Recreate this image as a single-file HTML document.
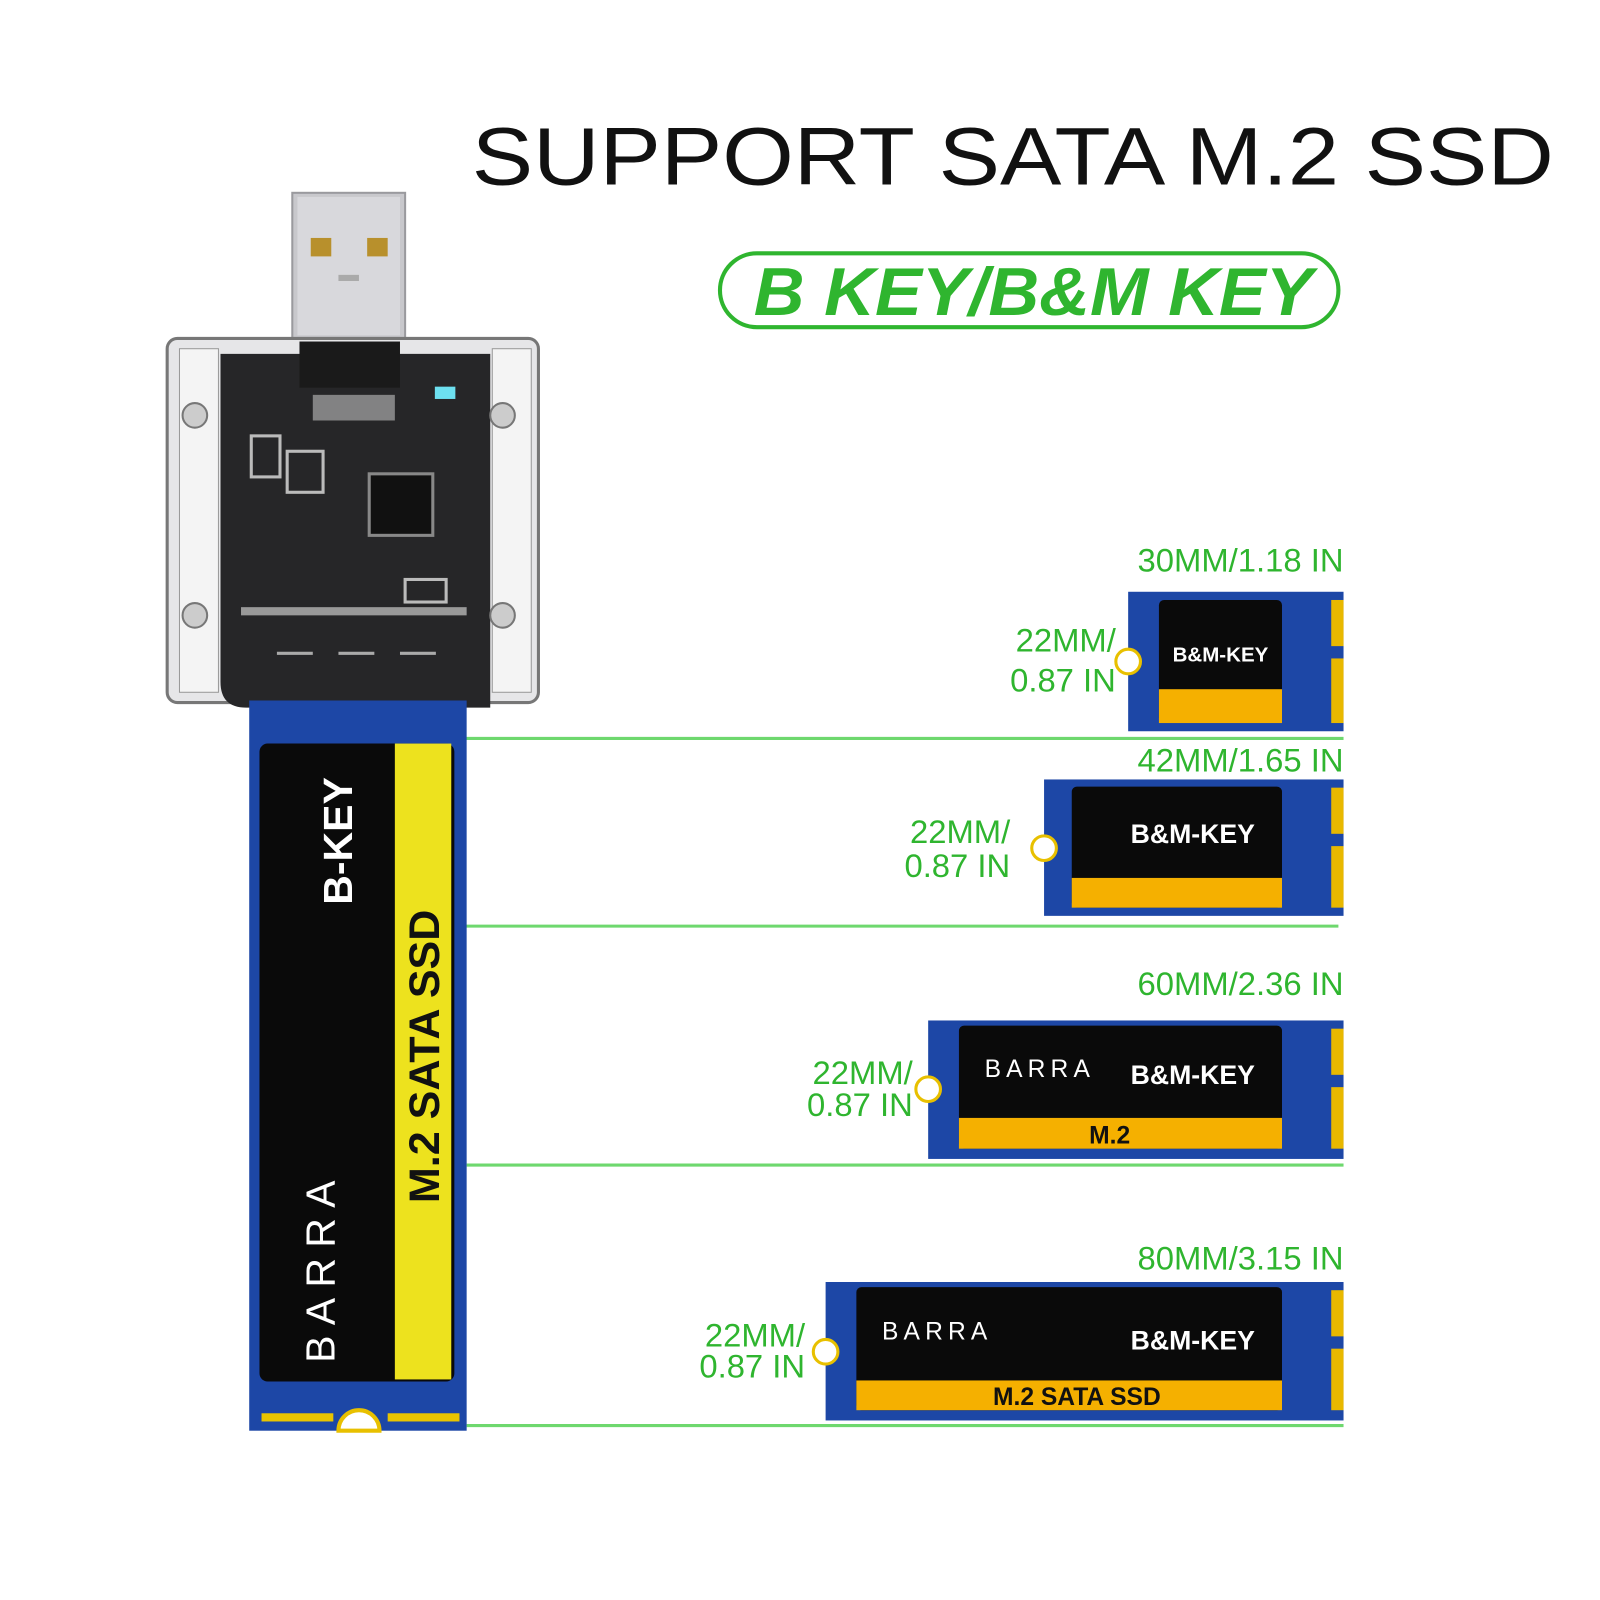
<!DOCTYPE html>
<html><head><meta charset="utf-8"><style>
html,body{margin:0;padding:0;background:#fff}
svg{display:block}
text{font-family:"Liberation Sans",sans-serif}
</style></head><body>
<svg width="1600" height="1600" viewBox="0 0 1600 1600" xmlns="http://www.w3.org/2000/svg">
<rect width="1600" height="1600" fill="#fff"/>
<g transform="scale(1.0256)">
<text x="460" y="180" font-size="80" textLength="1055" lengthAdjust="spacingAndGlyphs" fill="#111">SUPPORT SATA M.2 SSD</text>
<rect x="702" y="247" width="603" height="72" rx="36" fill="#fff" stroke="#2fb52f" stroke-width="4"/>
<text x="735" y="307" font-size="66" font-weight="bold" font-style="italic" fill="#2fb52f" textLength="545" lengthAdjust="spacingAndGlyphs">B KEY/B&amp;M KEY</text>

<rect x="285" y="188" width="110" height="145" fill="#c8c8cc" stroke="#9a9a9e" stroke-width="2"/>
<rect x="290" y="192" width="100" height="135" fill="#d8d8dc"/>
<rect x="303" y="232" width="20" height="18" fill="#b8902c"/>
<rect x="358" y="232" width="20" height="18" fill="#b8902c"/>
<rect x="330" y="268" width="20" height="6" fill="#aaa"/>
<rect x="163" y="330" width="362" height="355" rx="10" fill="#e6e6e8" stroke="#777" stroke-width="3"/>
<rect x="175" y="340" width="38" height="335" fill="#f4f4f4" stroke="#999"/>
<rect x="480" y="340" width="38" height="335" fill="#f4f4f4" stroke="#999"/>
<path d="M215 345 H478 V690 H240 Q215 690 215 665 Z" fill="#262628"/>
<rect x="292" y="333" width="98" height="45" fill="#1a1a1a"/>
<rect x="305" y="385" width="80" height="25" fill="#aaa" opacity="0.7"/>
<rect x="424" y="377" width="20" height="12" fill="#6de0f0"/>
<rect x="360" y="462" width="62" height="60" fill="#111" stroke="#888" stroke-width="3"/>
<rect x="280" y="440" width="35" height="40" fill="none" stroke="#bbb" stroke-width="3"/>
<rect x="245" y="425" width="28" height="40" fill="none" stroke="#bbb" stroke-width="3"/>
<rect x="395" y="565" width="40" height="22" fill="none" stroke="#bbb" stroke-width="3"/>
<rect x="235" y="592" width="220" height="8" fill="#999"/>
<line x1="270" y1="637" x2="445" y2="637" stroke="#aaa" stroke-width="3" stroke-dasharray="35,25"/>
<circle cx="190" cy="405" r="12" fill="#ccc" stroke="#777" stroke-width="2"/>
<circle cx="490" cy="405" r="12" fill="#ccc" stroke="#777" stroke-width="2"/>
<circle cx="190" cy="600" r="12" fill="#ccc" stroke="#777" stroke-width="2"/>
<circle cx="490" cy="600" r="12" fill="#ccc" stroke="#777" stroke-width="2"/>

<g stroke="#6ed86e" stroke-width="3">
<line x1="450" y1="720" x2="1310" y2="720"/>
<line x1="450" y1="903" x2="1305" y2="903"/>
<line x1="455" y1="1136" x2="1310" y2="1136"/>
<line x1="455" y1="1390" x2="1310" y2="1390"/>
</g>

<rect x="243" y="683" width="212" height="712" fill="#1d47a6"/>
<rect x="253" y="725" width="190" height="622" rx="8" fill="#0a0a0a"/>
<rect x="385" y="725" width="55" height="620" fill="#ede21e"/>
<path d="M330 1395 A20 20 0 0 1 370 1395 Z" fill="#fff" stroke="#e8c000" stroke-width="4"/>
<g fill="#e8c400"><rect x="255" y="1378" width="70" height="8"/><rect x="378" y="1378" width="70" height="8"/></g>
<text transform="translate(343,820) rotate(-90)" text-anchor="middle" font-size="40" font-weight="bold" fill="#fff">B-KEY</text>
<text transform="translate(326,1235) rotate(-90)" text-anchor="middle" font-size="40" fill="#fff" letter-spacing="10">BARRA</text>
<text transform="translate(428,1030) rotate(-90)" text-anchor="middle" font-size="42" font-weight="bold" fill="#111">M.2 SATA SSD</text>

<rect x="1100" y="577" width="210" height="136" fill="#1d47a6"/>
<rect x="1130" y="585" width="120" height="120" rx="5" fill="#0a0a0a"/>
<rect x="1130" y="672" width="120" height="33" fill="#f5b000"/>
<rect x="1298" y="585" width="12" height="45" fill="#e8b800"/><rect x="1298" y="642" width="12" height="63" fill="#e8b800"/>
<circle cx="1100" cy="645" r="12" fill="#fff" stroke="#e8c000" stroke-width="3"/>
<text x="1190" y="645" text-anchor="middle" font-size="20" font-weight="bold" fill="#fff">B&amp;M-KEY</text>

<rect x="1018" y="760" width="292" height="133" fill="#1d47a6"/>
<rect x="1045" y="767" width="205" height="118" rx="5" fill="#0a0a0a"/>
<rect x="1045" y="856" width="205" height="29" fill="#f5b000"/>
<rect x="1298" y="768" width="12" height="45" fill="#e8b800"/><rect x="1298" y="825" width="12" height="60" fill="#e8b800"/>
<circle cx="1018" cy="827" r="12" fill="#fff" stroke="#e8c000" stroke-width="3"/>
<text x="1163" y="822" text-anchor="middle" font-size="26" font-weight="bold" fill="#fff">B&amp;M-KEY</text>

<rect x="905" y="995" width="405" height="135" fill="#1d47a6"/>
<rect x="935" y="1000" width="315" height="120" rx="5" fill="#0a0a0a"/>
<rect x="935" y="1090" width="315" height="30" fill="#f5b000"/>
<rect x="1298" y="1003" width="12" height="45" fill="#e8b800"/><rect x="1298" y="1060" width="12" height="60" fill="#e8b800"/>
<circle cx="905" cy="1062" r="12" fill="#fff" stroke="#e8c000" stroke-width="3"/>
<text x="1163" y="1057" text-anchor="middle" font-size="26" font-weight="bold" fill="#fff">B&amp;M-KEY</text>
<text x="960" y="1050" font-size="24" fill="#fff" letter-spacing="5">BARRA</text>
<text x="1082" y="1115" text-anchor="middle" font-size="24" font-weight="bold" fill="#111">M.2</text>

<rect x="805" y="1250" width="505" height="135" fill="#1d47a6"/>
<rect x="835" y="1255" width="415" height="120" rx="5" fill="#0a0a0a"/>
<rect x="835" y="1346" width="415" height="29" fill="#f5b000"/>
<rect x="1298" y="1258" width="12" height="45" fill="#e8b800"/><rect x="1298" y="1315" width="12" height="60" fill="#e8b800"/>
<circle cx="805" cy="1318" r="12" fill="#fff" stroke="#e8c000" stroke-width="3"/>
<text x="1163" y="1316" text-anchor="middle" font-size="26" font-weight="bold" fill="#fff">B&amp;M-KEY</text>
<text x="860" y="1306" font-size="24" fill="#fff" letter-spacing="5">BARRA</text>
<text x="1050" y="1370" text-anchor="middle" font-size="24" font-weight="bold" fill="#111">M.2 SATA SSD</text>

<g font-size="32" fill="#2fb52f">
<text x="1310" y="557" text-anchor="end">30MM/1.18 IN</text>
<text x="1088" y="635" text-anchor="end">22MM/</text>
<text x="1088" y="674" text-anchor="end">0.87 IN</text>
<text x="1310" y="752" text-anchor="end">42MM/1.65 IN</text>
<text x="985" y="822" text-anchor="end">22MM/</text>
<text x="985" y="855" text-anchor="end">0.87 IN</text>
<text x="1310" y="970" text-anchor="end">60MM/2.36 IN</text>
<text x="890" y="1057" text-anchor="end">22MM/</text>
<text x="890" y="1088" text-anchor="end">0.87 IN</text>
<text x="1310" y="1238" text-anchor="end">80MM/3.15 IN</text>
<text x="785" y="1313" text-anchor="end">22MM/</text>
<text x="785" y="1343" text-anchor="end">0.87 IN</text>
</g>
</g>
</svg>
</body></html>
